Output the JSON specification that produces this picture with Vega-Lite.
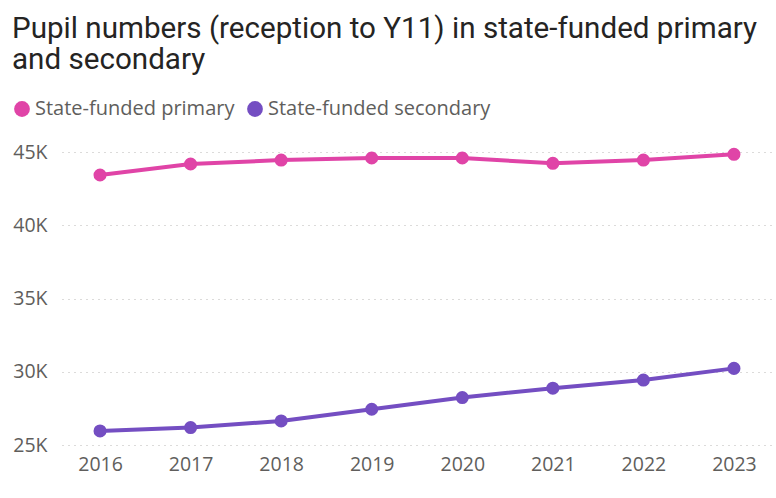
{
  "$schema": "https://vega.github.io/schema/vega-lite/v6.json",
  "width": 710,
  "height": 293,
  "autosize": {"type": "none"},
  "padding": {"left": 62, "top": 152, "right": 4, "bottom": 53},
  "background": "white",
  "config": {"view": {"stroke": null}},
  "title": {
    "text": ["Pupil numbers (reception to Y11) in state-funded primary", "and secondary"],
    "anchor": "start",
    "frame": "group",
    "orient": "top",
    "font": "Roboto",
    "fontSize": 29.6,
    "fontWeight": "normal",
    "color": "#252423",
    "lineHeight": 31,
    "baseline": "alphabetic",
    "dx": -50,
    "offset": 0
  },
  "data": {
    "values": [
      {"year": "2016", "type": "State-funded primary", "pupils": 43430},
      {"year": "2017", "type": "State-funded primary", "pupils": 44180},
      {"year": "2018", "type": "State-funded primary", "pupils": 44450},
      {"year": "2019", "type": "State-funded primary", "pupils": 44590},
      {"year": "2020", "type": "State-funded primary", "pupils": 44590},
      {"year": "2021", "type": "State-funded primary", "pupils": 44230},
      {"year": "2022", "type": "State-funded primary", "pupils": 44450},
      {"year": "2023", "type": "State-funded primary", "pupils": 44840},
      {"year": "2016", "type": "State-funded secondary", "pupils": 25960},
      {"year": "2017", "type": "State-funded secondary", "pupils": 26190},
      {"year": "2018", "type": "State-funded secondary", "pupils": 26640},
      {"year": "2019", "type": "State-funded secondary", "pupils": 27440},
      {"year": "2020", "type": "State-funded secondary", "pupils": 28240},
      {"year": "2021", "type": "State-funded secondary", "pupils": 28880},
      {"year": "2022", "type": "State-funded secondary", "pupils": 29430},
      {"year": "2023", "type": "State-funded secondary", "pupils": 30230}
    ]
  },
  "encoding": {
    "x": {
      "field": "year",
      "type": "ordinal",
      "scale": {"type": "point", "padding": 0.42},
      "axis": {
        "title": null,
        "labelAngle": 0,
        "domain": false,
        "ticks": false,
        "grid": false,
        "labelFont": "Open Sans",
        "labelFontSize": 19.5,
        "labelColor": "#605E5C",
        "labelPadding": 10
      }
    },
    "y": {
      "field": "pupils",
      "type": "quantitative",
      "scale": {"domain": [25000, 45000], "nice": false, "zero": false},
      "axis": {
        "title": null,
        "values": [25000, 30000, 35000, 40000, 45000],
        "labelExpr": "format(datum.value / 1000, 'd') + 'K'",
        "domain": false,
        "ticks": false,
        "grid": true,
        "gridColor": "#B8B6B4",
        "gridDash": [1, 5],
        "gridWidth": 1,
        "labelFont": "Open Sans",
        "labelFontSize": 19.5,
        "labelColor": "#605E5C",
        "labelPadding": 15
      }
    }
  },
  "resolve": {"legend": {"color": "independent"}},
  "layer": [
    {
      "mark": {"type": "line", "strokeWidth": 4},
      "encoding": {"color": {"field": "type", "type": "nominal", "legend": null,
        "scale": {"domain": ["State-funded primary", "State-funded secondary"], "range": ["#E044A7", "#744EC2"]}}}
    },
    {
      "mark": {"type": "point", "filled": true, "opacity": 1, "size": 170},
      "encoding": {
        "color": {
          "field": "type",
          "type": "nominal",
          "scale": {"domain": ["State-funded primary", "State-funded secondary"], "range": ["#E044A7", "#744EC2"]},
          "legend": {
            "title": null,
            "orient": "none",
            "legendX": -50,
            "legendY": -53,
            "direction": "horizontal",
            "symbolType": "circle",
            "symbolSize": 250,
            "symbolOpacity": 1,
            "labelFont": "Open Sans",
            "labelFontSize": 20,
            "labelColor": "#605E5C",
            "labelLimit": 400,
            "labelOffset": 3,
            "columnPadding": 10,
            "padding": 0
          }
        }
      }
    }
  ]
}
